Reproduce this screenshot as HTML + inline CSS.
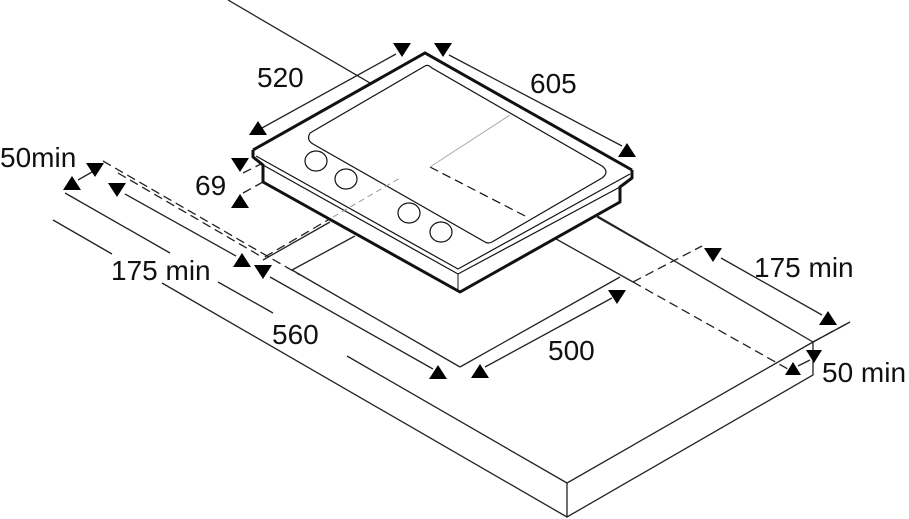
<!DOCTYPE html>
<html><head><meta charset="utf-8"><style>
html,body{margin:0;padding:0;background:#fff;}
svg{display:block;}
text{font-family:"Liberation Sans",sans-serif;font-size:28px;fill:#111;}
</style></head><body>
<svg width="909" height="519" viewBox="0 0 909 519" xmlns="http://www.w3.org/2000/svg">
<g stroke="#222" stroke-width="1.3" fill="none">
<line x1="228" y1="0" x2="813" y2="342"/>
<polyline points="813,342 567,483 567,517 813,375 813,342"/>
<line x1="567" y1="483" x2="347" y2="356"/>
<line x1="273" y1="313" x2="218" y2="282"/>
<line x1="170" y1="253" x2="65" y2="193"/>
<line x1="567" y1="517" x2="162" y2="283"/>
<line x1="112" y1="254" x2="53" y2="220"/>
<line x1="813" y1="342" x2="850" y2="322"/>
<line x1="292" y1="270" x2="460" y2="367"/>
<line x1="460" y1="367" x2="620" y2="277"/>
<line x1="292" y1="270" x2="355" y2="236"/>
<line x1="263" y1="260" x2="330" y2="222"/>
<line x1="540" y1="230" x2="633" y2="282"/>
<line x1="597" y1="217" x2="650" y2="247"/>
<line x1="262" y1="128" x2="396" y2="54"/>
<line x1="449" y1="55" x2="622" y2="146"/>
<line x1="78" y1="180" x2="92" y2="172"/>
<line x1="125" y1="194" x2="236" y2="256"/>
<line x1="270" y1="277" x2="433" y2="369"/>
<line x1="485" y1="367" x2="612" y2="298"/>
<line x1="721" y1="258" x2="822" y2="315"/>
<line x1="810" y1="360" x2="798" y2="366"/>
</g>
<g stroke="#222" stroke-width="1.3" fill="none" stroke-dasharray="9,5">
<line x1="103" y1="161" x2="300" y2="275"/>
<line x1="118" y1="173" x2="262" y2="257"/>
<line x1="243" y1="173" x2="263" y2="163"/>
<line x1="243" y1="193" x2="263" y2="182"/>
<line x1="633" y1="282" x2="795" y2="373"/>
<line x1="633" y1="282" x2="702" y2="246"/>
<line x1="813" y1="342" x2="850" y2="322"/>
<line x1="333" y1="217" x2="263" y2="258"/>
</g>
<line x1="510" y1="115" x2="333" y2="217" stroke="#999" stroke-width="1"/>
<g fill="#fff" stroke="#111">
<polygon points="253,150 425,53 632,170 620,187 620,202 460,292 263,182 263,165" stroke-width="0"/>
</g>
<g fill="none" stroke="#111">
<polyline points="253,150 425,53 632,170" stroke-width="3"/>
<polyline points="253,150 253,157 263,165 263,182 460,292 620,202 620,187 632,178 632,170" stroke-width="3" stroke-linejoin="round"/>
<polyline points="263,165 458,274 620,187" stroke-width="1.2"/>
<polyline points="256,156 458,269 630,174" stroke-width="1.2"/>
<line x1="458" y1="274" x2="458" y2="292" stroke-width="1"/>
<path d="M425,66 L310,133 Q306,140 313,144 L485,242 Q488,244 492,242 L602,178 Q610,172 602,166 L432,68 Q428,64 425,66 Z" stroke-width="1.2"/>
<line x1="430" y1="167" x2="527" y2="217" stroke-dasharray="9,5" stroke-width="1.2"/>
<ellipse cx="316" cy="161" rx="11" ry="10" stroke-width="1.2"/>
<ellipse cx="346" cy="179" rx="11" ry="10" stroke-width="1.2"/>
<ellipse cx="409" cy="213" rx="11" ry="10" stroke-width="1.2"/>
<ellipse cx="441" cy="232" rx="11" ry="10" stroke-width="1.2"/>
<line x1="510" y1="115" x2="430" y2="167" stroke="#aaa" stroke-width="1"/>
<line x1="333" y1="217" x2="400" y2="178" stroke="#999" stroke-width="1" stroke-dasharray="6,4"/>
</g>
<g fill="#000">
<polygon points="249,135 267,135 258,121"/>
<polygon points="393,43 411,43 402,57"/>
<polygon points="434,43 452,43 443,57"/>
<polygon points="618,157 636,157 627,143"/>
<polygon points="231,158 249,158 240,172"/>
<polygon points="231,208 249,208 240,194"/>
<polygon points="63,190 81,190 72,176"/>
<polygon points="86,163 104,163 95,177"/>
<polygon points="108,183 126,183 117,197"/>
<polygon points="233,267 251,267 242,253"/>
<polygon points="254,265 272,265 263,279"/>
<polygon points="429,379 447,379 438,365"/>
<polygon points="471,378 489,378 480,364"/>
<polygon points="608,290 626,290 617,304"/>
<polygon points="704,248 722,248 713,262"/>
<polygon points="819,325 837,325 828,311"/>
<polygon points="806,350 822,350 814,363"/>
<polygon points="785,375 801,375 793,362"/>
</g>
<text x="257" y="87">520</text>
<text x="530" y="93">605</text>
<text x="0" y="167">50min</text>
<text x="195" y="195">69</text>
<text x="111" y="280">175 min</text>
<text x="272" y="344">560</text>
<text x="548" y="360">500</text>
<text x="754" y="277">175 min</text>
<text x="822" y="382">50 min</text>
</svg>
</body></html>
